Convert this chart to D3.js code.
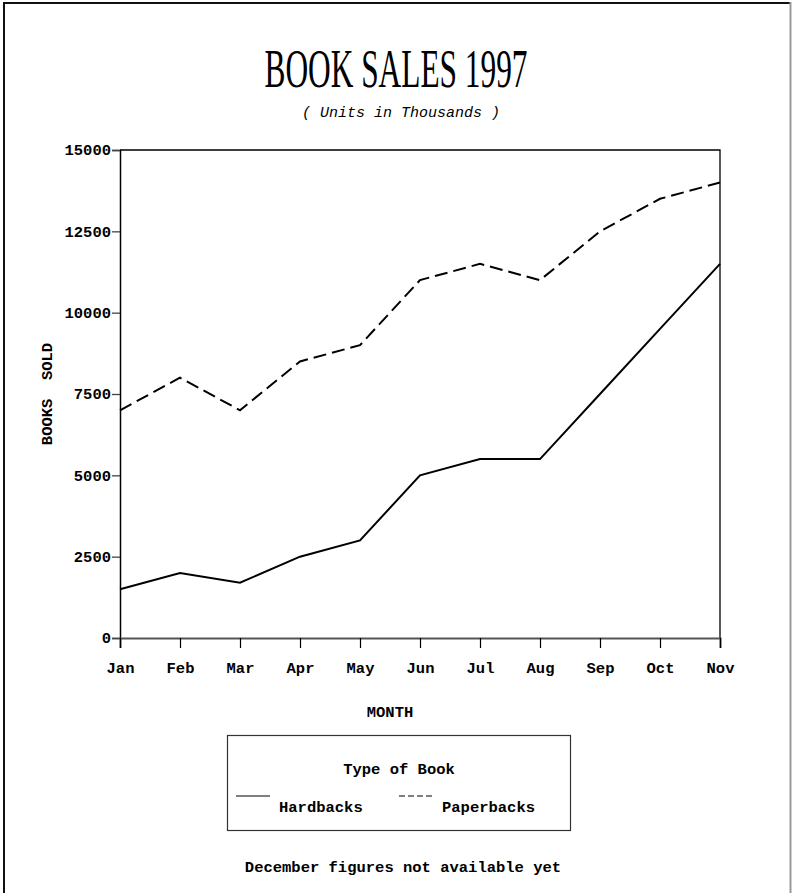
<!DOCTYPE html>
<html>
<head>
<meta charset="utf-8">
<script src="https://cdn.jsdelivr.net/npm/d3@7"></script>
<style>
  body { margin: 0; background: #fff; }
  svg text { fill: #000; white-space: pre; }
  .mono { font-family: "Liberation Mono", "Courier New", monospace; font-weight: bold; font-size: 15.5px; }
</style>
</head>
<body>
<div id="chart"></div>
<script>
// data
var months = [ 'Jan', 'Feb', 'Mar', 'Apr', 'May', 'Jun', 'Jul', 'Aug', 'Sep', 'Oct', 'Nov' ];
var hardbacks = [ 1500, 2000, 1700, 2500, 3000, 5000, 5500, 5500, 7500, 9500, 11500 ];
var paperbacks = [ 7000, 8000, 7000, 8500, 9000, 11000, 11500, 11000, 12500, 13500, 14000 ];
var yTicks = [ 0, 2500, 5000, 7500, 10000, 12500, 15000 ];
var seriesNames = [ 'Hardbacks', 'Paperbacks' ];

function drawChart() {
    var width = 792, height = 893;
    var plotLeft = 120, plotRight = 720, plotTop = 150, plotBottom = 638;

    var svg = d3.select('#chart').append('svg')
        .attr('width', width).attr('height', height);

    // page frame
    svg.append('line').attr('x1', 4).attr('x2', 4).attr('y1', 2).attr('y2', height)
       .attr('stroke', '#111').attr('stroke-width', 2);
    svg.append('line').attr('x1', 3).attr('x2', 791).attr('y1', 3).attr('y2', 3)
       .attr('stroke', '#111').attr('stroke-width', 2);
    svg.append('line').attr('x1', 790.5).attr('x2', 790.5).attr('y1', 2).attr('y2', height)
       .attr('stroke', '#999').attr('stroke-width', 2);

    // titles
    svg.append('text')
       .attr('x', 396).attr('y', 87)
       .attr('text-anchor', 'middle')
       .attr('font-family', '"Liberation Serif", "Times New Roman", serif')
       .attr('font-size', 55)
       .attr('textLength', 263).attr('lengthAdjust', 'spacingAndGlyphs')
       .text('BOOK SALES 1997');

    svg.append('text')
       .attr('x', 401).attr('y', 117)
       .attr('text-anchor', 'middle')
       .attr('font-family', '"Liberation Mono", "Courier New", monospace')
       .attr('font-style', 'italic')
       .attr('font-size', 15)
       .text('( Units in Thousands )');

    var x = d3.scalePoint().domain(months).range([ plotLeft, plotRight ]);
    var y = d3.scaleLinear().domain([ 0, 15000 ]).range([ plotBottom, plotTop ]);

    // top and right frame of the plot
    svg.append('path')
       .attr('d', 'M' + plotLeft + ',' + plotTop + 'H' + plotRight + 'V' + plotBottom)
       .attr('fill', 'none').attr('stroke', '#000').attr('stroke-width', 1.3);

    var yAxis = svg.append('g')
       .attr('class', 'mono')
       .attr('transform', 'translate(' + plotLeft + ',0)')
       .call(d3.axisLeft(y).tickValues(yTicks).tickSize(8).tickPadding(1).tickFormat(d3.format('d')));
    yAxis.select('.domain').attr('stroke', '#000').attr('stroke-width', 1.5);
    yAxis.selectAll('.tick line').attr('stroke', '#444').attr('stroke-width', 1.3);
    yAxis.selectAll('text').attr('font-family', null).attr('font-size', null);

    var xAxis = svg.append('g')
       .attr('class', 'mono')
       .attr('transform', 'translate(0,' + plotBottom + ')')
       .call(d3.axisBottom(x).tickSize(10).tickPadding(14));
    xAxis.select('.domain').attr('stroke', '#555').attr('stroke-width', 2);
    xAxis.selectAll('.tick line').attr('stroke', '#000').attr('stroke-width', 1.2);
    xAxis.selectAll('text').attr('font-family', null).attr('font-size', null);

    svg.append('text').attr('class', 'mono')
       .attr('transform', 'translate(52,' + ((plotTop + plotBottom) / 2) + ') rotate(-90)')
       .attr('text-anchor', 'middle')
       .attr('font-size', 13)
       .text('BOOKS  SOLD');

    svg.append('text').attr('class', 'mono')
       .attr('x', 390).attr('y', 717)
       .attr('text-anchor', 'middle')
       .attr('font-size', 13)
       .text('MONTH');

    // series lines
    var line = d3.line()
       .x(function(d, i) { return x(months[i]); })
       .y(function(d) { return y(d); });

    svg.append('path').datum(hardbacks)
       .attr('d', line).attr('fill', 'none')
       .attr('stroke', '#000').attr('stroke-width', 2);

    svg.append('path').datum(paperbacks)
       .attr('d', line).attr('fill', 'none')
       .attr('stroke', '#000').attr('stroke-width', 2)
       .attr('stroke-dasharray', '13,6');

    // legend
    svg.append('rect')
       .attr('x', 227.5).attr('y', 735.5).attr('width', 343).attr('height', 95)
       .attr('fill', 'none').attr('stroke', '#333').attr('stroke-width', 1.2);

    svg.append('text').attr('class', 'mono')
       .attr('x', 399).attr('y', 774)
       .attr('text-anchor', 'middle')
       .text('Type of Book');

    var legendX = [ 236, 399 ];
    var legendDash = [ null, '6,3' ];
    seriesNames.forEach(function(name, i) {
        svg.append('line')
           .attr('x1', legendX[i]).attr('x2', legendX[i] + 34)
           .attr('y1', 796).attr('y2', 796)
           .attr('stroke', '#000').attr('stroke-width', 1.2)
           .attr('stroke-dasharray', legendDash[i]);
        svg.append('text').attr('class', 'mono')
           .attr('x', legendX[i] + 43).attr('y', 812)
           .text(name);
    });

    svg.append('text').attr('class', 'mono')
       .attr('x', 403).attr('y', 872)
       .attr('text-anchor', 'middle')
       .text('December figures not available yet');
}

drawChart();
</script>
</body>
</html>
